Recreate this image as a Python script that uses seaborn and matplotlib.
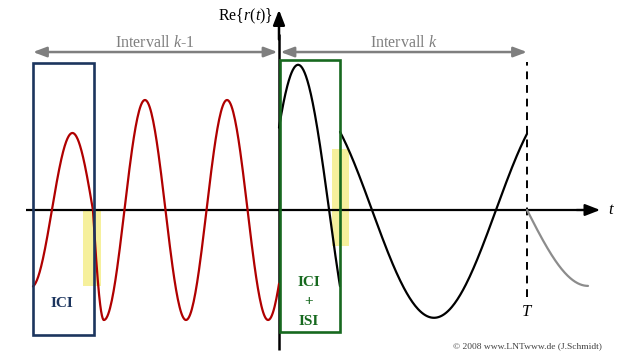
import numpy as np
import pandas as pd
import matplotlib
matplotlib.use("Agg")
import matplotlib.pyplot as plt
import matplotlib.patches as mpatches
import seaborn as sns

# ---- data: t in units of T, value in units of red amplitude ----
seg_names = ["red_a", "red_b", "red_c", "blk_a", "blk_b", "gray"]
seg_start = [-0.992, -0.750, -0.706, 0.000, 0.246, 1.000]
seg_end = [-0.750, -0.706, 0.000, 0.246, 1.000, 1.246]
seg_amp = [0.70, -1.00, -1.00, 1.32, -0.98, -0.69]
seg_period = [0.331, 0.177, 0.331, 0.500, 1.000, 0.984]
seg_ref = [-0.833, -0.706, -0.706, 0.077, 0.625, 1.246]
seg_colors = ["#b00000", "#b00000", "#b00000", "black", "black", "#8c8c8c"]

interval_labels = [r"Intervall $k$-1", r"Intervall $k$"]
interval_bounds = [(-0.992, -0.006), (0.006, 1.0)]

sns.set_theme(style="white")
plt.rcParams["font.family"] = ["Liberation Serif", "DejaVu Serif"]
plt.rcParams["mathtext.fontset"] = "custom"
plt.rcParams["mathtext.rm"] = "Liberation Serif"
plt.rcParams["mathtext.it"] = "Liberation Serif:italic"
plt.rcParams["mathtext.bf"] = "Liberation Serif:bold"

rows = []
for name, a, b, amp, per, ref in zip(seg_names, seg_start, seg_end, seg_amp, seg_period, seg_ref):
    tt = np.linspace(a, b, 200)
    for i, t in enumerate(tt):
        rows.append((name, i, t, amp * np.cos(2 * np.pi * (t - ref) / per)))
df = pd.DataFrame(rows, columns=["seg", "idx", "t", "v"])

fig = plt.figure(figsize=(6.2, 3.62), dpi=100)
ax = fig.add_axes([0, 0, 1, 1])
ax.set_xlim(-1.125, 1.375)
ax.set_ylim(-1.3818, 1.909)
ax.axis("off")

# yellow highlight rectangles
yellow = "#f6f09c"
ax.add_patch(mpatches.Rectangle((-0.790, -0.691), 0.072, 0.682, facecolor=yellow, edgecolor="none", zorder=1))
ax.add_patch(mpatches.Rectangle((0.214, -0.327), 0.068, 0.882, facecolor=yellow, edgecolor="none", zorder=1))

# axes
ax.plot([-1.02, 1.25], [0, 0], color="black", lw=1.6, zorder=2, solid_capstyle="butt")
ax.annotate("", xy=(1.295, 0), xytext=(1.2, 0),
            arrowprops=dict(arrowstyle="-|>,head_length=0.9,head_width=0.35", color="black",
                            lw=1.6, shrinkA=0, shrinkB=0, mutation_scale=10), zorder=2)
ax.plot([0, 0], [-1.273, 1.6], color="black", lw=1.8, zorder=2, solid_capstyle="butt")
ax.annotate("", xy=(0, 1.82), xytext=(0, 1.55),
            arrowprops=dict(arrowstyle="-|>,head_length=0.9,head_width=0.35", color="black",
                            lw=1.8, shrinkA=0, shrinkB=0, mutation_scale=10), zorder=2)

# curves
sns.lineplot(data=df, x="t", y="v", hue="seg", units="seg", estimator=None, sort=False,
             palette=dict(zip(seg_names, seg_colors)), lw=1.6, legend=False, ax=ax, zorder=4)

# dashed T line
ax.plot([1.0, 1.0], [-0.795, 1.345], color="black", lw=1.4, ls=(0, (4, 3)), zorder=3)

# boxes
blue = "#1c355e"
green = "#17691f"
ax.add_patch(mpatches.Rectangle((-0.992, -1.136), 0.246, 2.472, facecolor="none", edgecolor=blue, lw=1.9, zorder=5))
ax.add_patch(mpatches.Rectangle((0.004, -1.109), 0.242, 2.473, facecolor="none", edgecolor=green, lw=1.9, zorder=5))

# interval arrows
for lab, (a, b) in zip(interval_labels, interval_bounds):
    ax.annotate("", xy=(b, 1.436), xytext=(a, 1.436),
                arrowprops=dict(arrowstyle="<|-|>,head_length=0.8,head_width=0.3", color="#7f7f7f",
                                lw=1.8, shrinkA=0, shrinkB=0, mutation_scale=10))
    ax.text((a + b) / 2, 1.48, lab, ha="center", va="baseline", fontsize=11.5, color="#7f7f7f")

# labels
ax.text(-0.024, 1.72, r"$\mathrm{Re}\{r(t)\}$", ha="right", va="baseline", fontsize=11.5, color="black")
ax.text(1.325, 0.0, r"$t$", ha="left", va="center", fontsize=12, color="black")
ax.text(1.0, -0.93, r"$T$", ha="center", va="center", fontsize=12, color="black")
ax.text(-0.874, -0.85, "ICI", ha="center", va="center", fontsize=11, fontweight="bold", color=blue)
ax.text(0.121, -0.66, "ICI", ha="center", va="center", fontsize=11, fontweight="bold", color=green)
ax.text(0.121, -0.835, "+", ha="center", va="center", fontsize=11, fontweight="bold", color=green)
ax.text(0.121, -1.01, "ISI", ha="center", va="center", fontsize=11, fontweight="bold", color=green)
ax.text(1.30, -1.236, "© 2008 www.LNTwww.de (J.Schmidt)", ha="right", va="center", fontsize=6.8, color="#404040")

fig.savefig("out.png", dpi=100)
